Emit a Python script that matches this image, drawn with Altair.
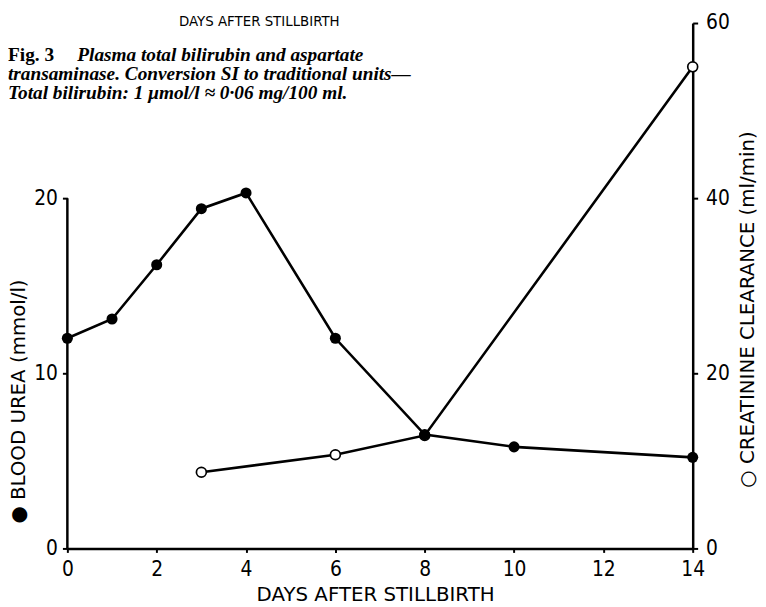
import altair as alt
import pandas as pd

# Blood urea (mmol/l), filled circles, left axis
urea_days = [0, 1, 2, 3, 4, 6, 8, 10, 14]
urea_vals = [12.0, 13.1, 16.2, 19.4, 20.3, 12.0, 6.5, 5.8, 5.2]

# Creatinine clearance (ml/min), open circles, right axis
cc_days = [3, 6, 8, 14]
cc_vals = [8.7, 10.7, 12.9, 55.0]

x_ticks = [0, 2, 4, 6, 8, 10, 12, 14]
left_ticks = [0, 10, 20]
right_ticks = [0, 20, 40, 60]

caption_fig = "Fig. 3"
caption_l1 = "Plasma total bilirubin and aspartate"
caption_l2 = "transaminase. Conversion SI to traditional units\u2014"
caption_l3 = "Total bilirubin: 1  \u03bcmol/l \u2248 0\u00b706 mg/100 ml."
prev_title = "DAYS AFTER STILLBIRTH"

urea_df = pd.DataFrame({"day": urea_days, "urea": urea_vals})
cc_df = pd.DataFrame({"day": cc_days, "cc": cc_vals})
axis_df = pd.DataFrame({"day": [0], "lo": [0], "hi": [20]})

NARROW = "'Liberation Sans Narrow', 'DejaVu Sans Condensed', 'DejaVu Sans', sans-serif"
TITLEF = "'DejaVu Sans', sans-serif"
SERIF = "'Liberation Serif', 'DejaVu Serif', serif"

x_axis = alt.Axis(
    values=x_ticks, title="DAYS AFTER STILLBIRTH", titleFont=TITLEF, titleFontSize=20,
    titleFontWeight="normal", titleColor="black", titleY=53, titleBaseline="alphabetic",
    titleX=311,
    labelFont=NARROW, labelFontSize=21, labelColor="black", labelPadding=6,
    tickSize=4, tickWidth=2, tickColor="black", domainColor="black", domainWidth=2.5,
    grid=False, labelFlush=False,
)
x_enc = alt.X("day:Q", scale=alt.Scale(domain=[0, 14], nice=False), axis=x_axis)

left_axis = alt.Axis(
    orient="left", values=left_ticks, domain=False,
    title="\u25cf  BLOOD UREA (mmol/l)", titleFont=TITLEF, titleFontSize=20,
    titleFontWeight="normal", titleColor="black", titleAngle=270,
    titleX=-49, titleY=382, titleAlign="center", titleBaseline="middle",
    labelFont=NARROW, labelFontSize=21, labelColor="black", labelPadding=5,
    tickSize=5, tickWidth=2, tickColor="black", grid=False,
)
right_axis = alt.Axis(
    orient="right", values=right_ticks,
    title="\u25cb  CREATININE CLEARANCE (ml/min)", titleFont=TITLEF, titleFontSize=20,
    titleFontWeight="normal", titleColor="black", titleAngle=270,
    titleX=55, titleY=289, titleAlign="center", titleBaseline="middle",
    labelFont=NARROW, labelFontSize=21, labelColor="black", labelPadding=8,
    tickSize=5, tickWidth=2, tickColor="black", domainColor="black", domainWidth=2.5,
    grid=False,
)

y_left = alt.Scale(domain=[0, 30], nice=False)
y_right = alt.Scale(domain=[0, 60], nice=False)

urea_rule = alt.Chart(axis_df).mark_rule(color="black", strokeWidth=2.5).encode(
    x=x_enc, y=alt.Y("lo:Q", scale=y_left, axis=left_axis), y2="hi:Q"
)
urea_line = alt.Chart(urea_df).mark_line(color="black", strokeWidth=2.6).encode(
    x=x_enc, y=alt.Y("urea:Q", scale=y_left, axis=left_axis)
)
urea_pts = alt.Chart(urea_df).mark_point(
    filled=True, color="black", size=125, opacity=1
).encode(x=x_enc, y=alt.Y("urea:Q", scale=y_left, axis=left_axis))
urea_layer = alt.layer(urea_rule, urea_line, urea_pts)

cc_line = alt.Chart(cc_df).mark_line(color="black", strokeWidth=2.6).encode(
    x=x_enc, y=alt.Y("cc:Q", scale=y_right, axis=right_axis)
)
cc_pts = alt.Chart(cc_df).mark_point(
    filled=False, fill="white", stroke="black", strokeWidth=1.7, size=100, opacity=1
).encode(x=x_enc, y=alt.Y("cc:Q", scale=y_right, axis=right_axis))
cc_layer = alt.layer(cc_line, cc_pts)


def txt(s, x, y, size, font, style="normal", weight="normal", align="left"):
    return alt.Chart(pd.DataFrame({"t": [s]})).mark_text(
        font=font, fontSize=size, fontStyle=style, fontWeight=weight,
        align=align, baseline="alphabetic", color="black",
    ).encode(x=alt.value(x), y=alt.value(y), text="t:N")


CAP = 19.5
t_prev = txt(prev_title, 194, 3, 13.5, TITLEF, align="center")
t_fig = txt(caption_fig, -60, 38, CAP, SERIF, weight="bold")
t_l1 = txt(caption_l1, 10, 38, CAP, SERIF, style="italic", weight="bold")
t_l2 = txt(caption_l2, -60, 57.5, CAP, SERIF, style="italic", weight="bold")
t_l3 = txt(caption_l3, -60, 77, CAP, SERIF, style="italic", weight="bold")

chart = alt.layer(
    cc_layer, urea_layer, t_prev, t_fig, t_l1, t_l2, t_l3
).resolve_scale(y="independent").properties(
    width=632, height=531,
    padding={"left": 60, "top": 12, "right": 66, "bottom": 56},
    autosize=alt.AutoSizeParams(type="none"),
    background="white",
).configure_view(stroke=None)

chart.save("out.html", embed_options={"renderer": "svg", "actions": False})
